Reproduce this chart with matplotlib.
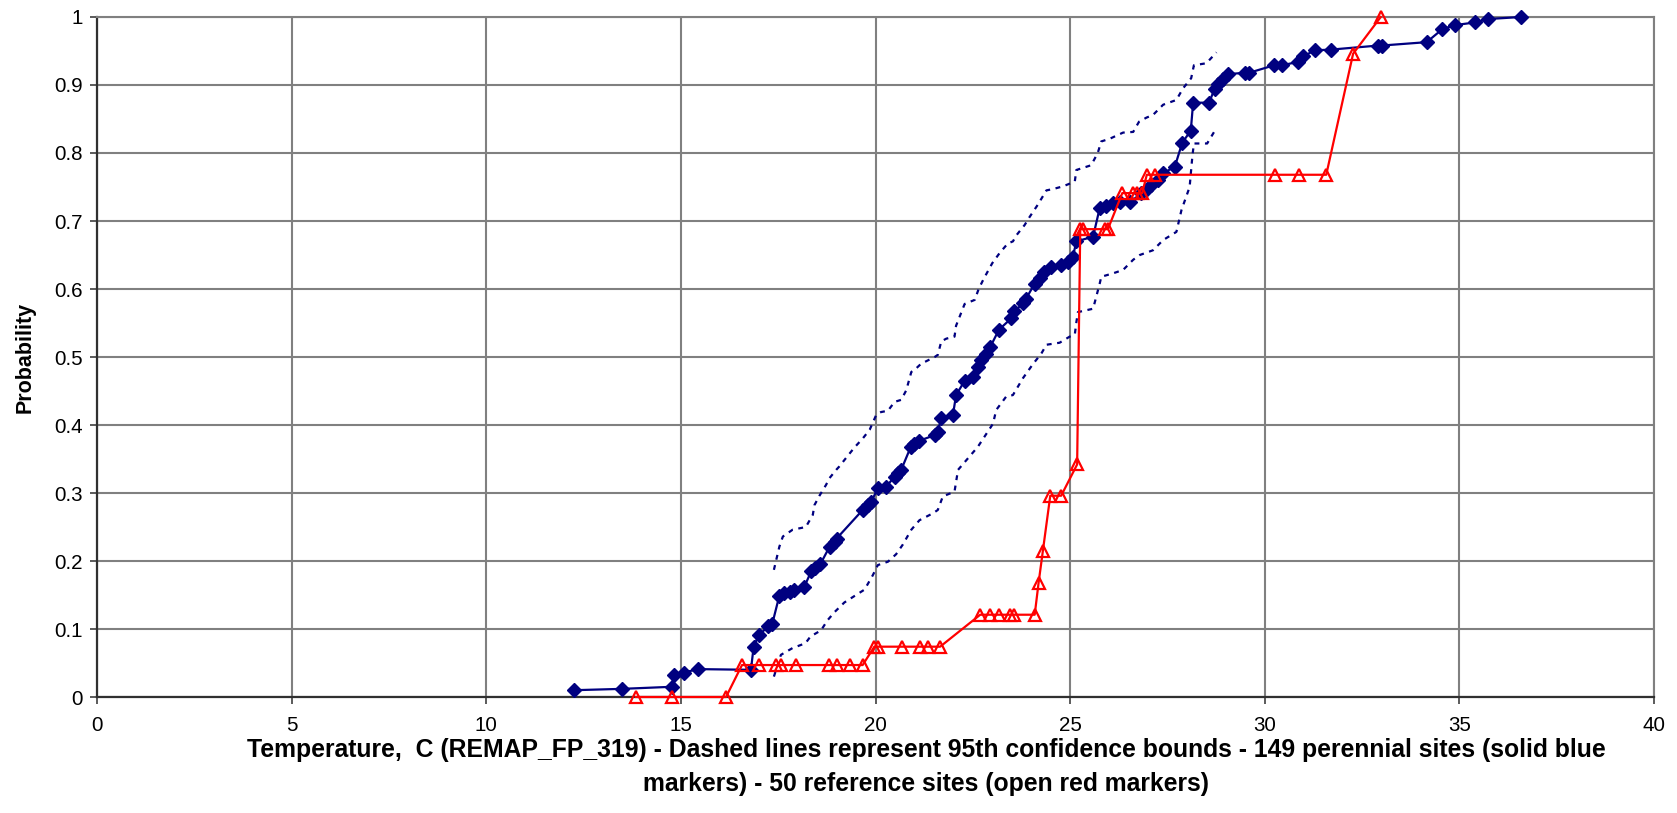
import matplotlib
matplotlib.use("Agg")
import matplotlib.pyplot as plt

plt.rcParams['font.family'] = ['Liberation Sans', 'DejaVu Sans']

# Perennial sites (solid blue markers)
blue_x = [12.26, 13.50, 14.76, 14.83, 15.07, 15.45, 16.80, 16.87, 17.00, 17.25, 17.35, 17.53, 17.66, 17.80,
          17.90, 18.17, 18.35, 18.45, 18.58, 18.82, 18.95, 19.00, 19.67, 19.80, 19.89, 20.06, 20.27, 20.49,
          20.58, 20.66, 20.90, 21.00, 21.13, 21.52, 21.60, 21.69, 21.99, 22.07, 22.29, 22.50, 22.63, 22.72,
          22.85, 22.95, 23.17, 23.49, 23.57, 23.79, 23.87, 24.09, 24.22, 24.34, 24.52, 24.77, 24.94, 25.07,
          25.16, 25.59, 25.76, 25.93, 26.10, 26.27, 26.55, 26.83, 26.96, 27.08, 27.25, 27.39, 27.69, 27.88,
          28.10, 28.16, 28.57, 28.71, 28.80, 28.93, 29.06, 29.49, 29.60, 30.24, 30.45, 30.85, 30.99, 31.28,
          31.69, 32.91, 33.00, 34.16, 34.56, 34.88, 35.40, 35.74, 36.58]
blue_y = [0.010, 0.012, 0.015, 0.032, 0.036, 0.041, 0.040, 0.074, 0.091, 0.104, 0.108, 0.149, 0.153, 0.155,
          0.157, 0.162, 0.185, 0.190, 0.195, 0.221, 0.228, 0.233, 0.275, 0.282, 0.287, 0.307, 0.309, 0.324,
          0.329, 0.334, 0.367, 0.372, 0.377, 0.385, 0.390, 0.410, 0.415, 0.444, 0.465, 0.470, 0.486, 0.496,
          0.505, 0.515, 0.540, 0.557, 0.567, 0.579, 0.586, 0.608, 0.616, 0.625, 0.633, 0.636, 0.640, 0.647,
          0.670, 0.677, 0.719, 0.722, 0.726, 0.728, 0.728, 0.741, 0.746, 0.753, 0.760, 0.770, 0.780, 0.815,
          0.833, 0.874, 0.874, 0.894, 0.901, 0.909, 0.916, 0.918, 0.918, 0.929, 0.929, 0.934, 0.942, 0.951,
          0.952, 0.958, 0.958, 0.963, 0.982, 0.988, 0.992, 0.997, 1.000]

# Upper 95% confidence bound
upper_x = [17.39, 17.53, 17.62, 17.87, 18.21, 18.39, 18.43, 18.56, 18.73, 18.82, 18.99, 19.07, 19.25, 19.46,
           19.67, 19.85, 20.02, 20.14, 20.32, 20.49, 20.66, 20.79, 20.92, 21.04, 21.17, 21.52, 21.60, 21.69,
           21.82, 22.03, 22.07, 22.29, 22.55, 22.65, 22.78, 23.00, 23.19, 23.40, 23.53, 23.62, 23.83, 23.96,
           24.17, 24.39, 24.56, 24.82, 25.12, 25.16, 25.54, 25.71, 25.80, 26.02, 26.36, 26.62, 26.77, 26.96,
           27.13, 27.39, 27.73, 27.90, 28.11, 28.18, 28.50, 28.76]
upper_y = [0.187, 0.221, 0.236, 0.246, 0.250, 0.268, 0.282, 0.296, 0.312, 0.322, 0.334, 0.339, 0.352, 0.367,
           0.380, 0.393, 0.415, 0.419, 0.421, 0.434, 0.437, 0.451, 0.478, 0.483, 0.490, 0.500, 0.503, 0.523,
           0.527, 0.530, 0.546, 0.578, 0.584, 0.600, 0.615, 0.638, 0.653, 0.667, 0.670, 0.679, 0.694, 0.706,
           0.724, 0.745, 0.747, 0.751, 0.758, 0.775, 0.782, 0.800, 0.817, 0.821, 0.830, 0.831, 0.846, 0.852,
           0.856, 0.871, 0.878, 0.895, 0.910, 0.929, 0.932, 0.948]

# Lower 95% confidence bound
lower_x = [17.39, 17.57, 17.87, 18.20, 18.33, 18.60, 18.77, 18.95, 19.20, 19.50, 19.72, 19.93, 20.06, 20.32,
           20.53, 20.70, 20.92, 21.13, 21.47, 21.60, 21.73, 22.03, 22.12, 22.63, 23.02, 23.10, 23.36, 23.53,
           23.79, 24.05, 24.26, 24.39, 24.73, 24.99, 25.12, 25.16, 25.20, 25.59, 25.76, 25.80, 26.10, 26.36,
           26.62, 26.79, 27.13, 27.39, 27.73, 27.86, 28.07, 28.14, 28.18, 28.52, 28.72]
lower_y = [0.030, 0.062, 0.072, 0.079, 0.089, 0.098, 0.113, 0.125, 0.139, 0.150, 0.158, 0.179, 0.194, 0.199,
           0.210, 0.224, 0.246, 0.260, 0.270, 0.275, 0.295, 0.302, 0.334, 0.368, 0.402, 0.422, 0.442, 0.444,
           0.469, 0.490, 0.505, 0.518, 0.521, 0.530, 0.533, 0.551, 0.566, 0.571, 0.608, 0.618, 0.623, 0.628,
           0.643, 0.650, 0.657, 0.672, 0.684, 0.716, 0.750, 0.795, 0.814, 0.814, 0.833]

# Reference sites (open red markers)
red_x = [13.85, 14.78, 16.16, 16.57, 17.00, 17.45, 17.58, 17.97, 18.80, 19.02, 19.35, 19.67, 19.97, 20.06,
         20.68, 21.15, 21.36, 21.66, 22.69, 22.95, 23.16, 23.46, 23.57, 24.09, 24.19, 24.30, 24.49, 24.77,
         25.18, 25.26, 25.33, 25.89, 25.97, 26.34, 26.62, 26.73, 26.85, 26.97, 27.17, 30.26, 30.87, 31.58,
         32.27, 32.98]
red_y = [0.0, 0.0, 0.0, 0.047, 0.047, 0.047, 0.047, 0.047, 0.047, 0.047, 0.047, 0.047, 0.074, 0.074,
         0.074, 0.074, 0.074, 0.074, 0.121, 0.121, 0.121, 0.121, 0.121, 0.121, 0.168, 0.215, 0.296, 0.296,
         0.342, 0.688, 0.688, 0.688, 0.688, 0.741, 0.741, 0.741, 0.741, 0.768, 0.768, 0.768, 0.768, 0.768,
         0.946, 1.000]

x_ticks = [0, 5, 10, 15, 20, 25, 30, 35, 40]
y_ticks = [0, 0.1, 0.2, 0.3, 0.4, 0.5, 0.6, 0.7, 0.8, 0.9, 1]
y_tick_labels = ['0', '0.1', '0.2', '0.3', '0.4', '0.5', '0.6', '0.7', '0.8', '0.9', '1']

xlabel_line1 = "Temperature,  C (REMAP_FP_319) - Dashed lines represent 95th confidence bounds - 149 perennial sites (solid blue"
xlabel_line2 = "markers) - 50 reference sites (open red markers)"

W, H = 1677, 813
fig = plt.figure(figsize=(W / 100, H / 100), dpi=100)
ax = fig.add_axes([97 / W, 1 - 697 / H, (1654 - 97) / W, (697 - 17) / H])

navy = '#000080'
ax.plot(upper_x, upper_y, color=navy, lw=1.6, linestyle=(0, (2.2, 2.5)), zorder=3)
ax.plot(lower_x, lower_y, color=navy, lw=1.6, linestyle=(0, (2.2, 2.5)), zorder=3)
ax.plot(blue_x, blue_y, color=navy, lw=1.6, marker='D', markersize=7.3,
        markerfacecolor=navy, markeredgecolor=navy, zorder=4, clip_on=False)
ax.plot(red_x, red_y, color='#ff0000', lw=1.6, marker='^', markersize=9,
        markerfacecolor='none', markeredgecolor='#ff0000', markeredgewidth=1.6, zorder=5, clip_on=False)

ax.set_xlim(0, 40)
ax.set_ylim(0, 1)
ax.set_xticks(x_ticks)
ax.set_xticklabels([str(t) for t in x_ticks])
ax.set_yticks(y_ticks)
ax.set_yticklabels(y_tick_labels)
ax.grid(True, color='#808080', lw=1.5, zorder=0)
ax.set_axisbelow(True)
for s in ['top', 'right']:
    ax.spines[s].set_color('#808080')
    ax.spines[s].set_linewidth(1.5)
for s in ['left', 'bottom']:
    ax.spines[s].set_color('#303030')
    ax.spines[s].set_linewidth(1.6)
ax.tick_params(axis='both', direction='out', length=5, width=1.2, color='#404040',
               labelsize=14.8, labelcolor='black')
ax.tick_params(axis='x', pad=9)
ax.tick_params(axis='y', pad=5)

fig.text(25 / W, 1 - 357 / H, 'Probability', rotation=90, ha='center', va='center',
         fontsize=15.5, fontweight='bold')
fig.text(926 / W, 1 - 750 / H, xlabel_line1, ha='center', va='center', fontsize=17.8, fontweight='bold')
fig.text(926 / W, 1 - 784 / H, xlabel_line2, ha='center', va='center', fontsize=17.8, fontweight='bold')

fig.savefig('out.png', dpi=100)
